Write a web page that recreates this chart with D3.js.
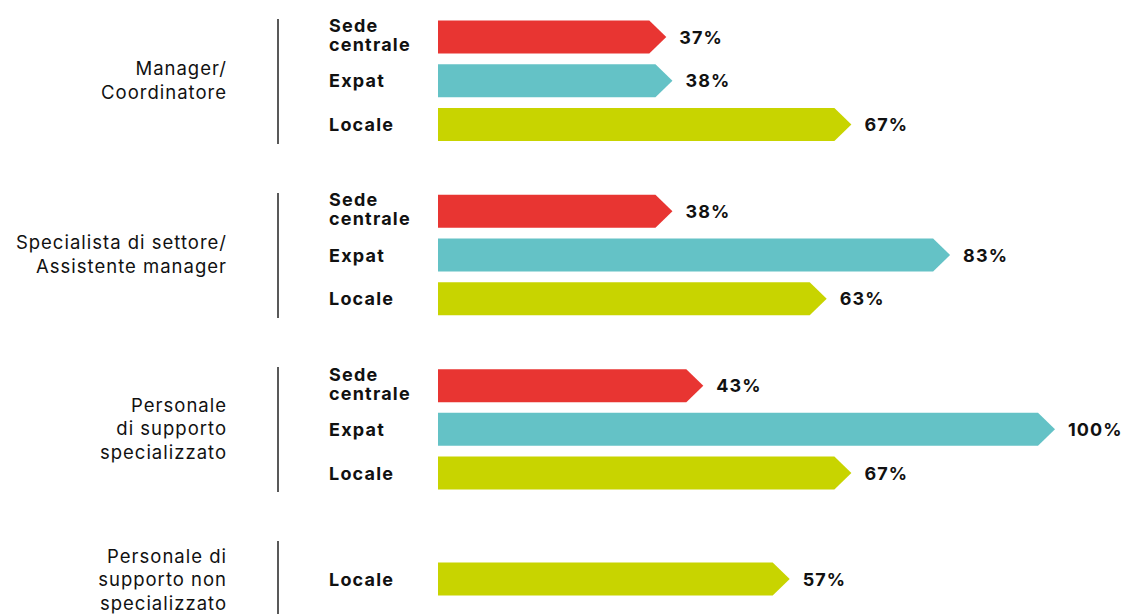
<!DOCTYPE html>
<html>
<head>
<meta charset="utf-8">
<script src="https://cdn.jsdelivr.net/npm/d3@7"></script>
<style>
  body { margin: 0; background: #fff; }
  text { font-family: "Inter", "Open Sans", sans-serif; fill: #111; }
</style>
</head>
<body>
<svg class="svg-bars"></svg>
<script>
// data
const groups = [
  ["Manager/", "Coordinatore"],
  ["Specialista di settore/", "Assistente manager"],
  ["Personale", "di supporto", "specializzato"],
  ["Personale di", "supporto non", "specializzato"]
]
const series = ["Sede centrale", "Expat", "Locale"]
const seriesLabels = [["Sede", "centrale"], ["Expat"], ["Locale"]]
const colors = ["#e83532", "#64c2c6", "#c8d400"]
const sedeValues = [37, 38, 43, null]
const expatValues = [38, 83, 100, null]
const localeValues = [67, 63, 67, 57]

const width = 1129, height = 614
const svg = d3.select(".svg-bars")
  .attr("width", width)
  .attr("height", height)

// flatten into rows
let rows = []
groups.forEach((g, gi) => {
  [sedeValues, expatValues, localeValues].forEach((vals, si) => {
    if (vals[gi] != null) rows.push({ group: gi, series: si, value: vals[gi] })
  })
})

const x_scale = d3.scaleLinear()
  .domain([0, 100])
  .range([438, 1055])

// row centre: group offset + series slot
const groupY = d3.scaleLinear().domain([0, 3]).range([37, 560])
const rowY = d => d.group === 3 ? 579 : groupY(d.group) + d.series * 43.7

const barH = 33, tip = 17

const arrow = d => {
  let x0 = x_scale(0), x1 = x_scale(d.value), y = rowY(d)
  return `M${x0},${y - barH / 2} L${x1 - tip},${y - barH / 2} L${x1},${y} L${x1 - tip},${y + barH / 2} L${x0},${y + barH / 2} Z`
}

svg.append("g").selectAll("path")
  .data(rows)
  .join("path")
  .attr("d", arrow)
  .attr("fill", d => colors[d.series])

// value labels
svg.append("g").selectAll("text")
  .data(rows)
  .join("text")
  .attr("x", d => x_scale(d.value) + 13)
  .attr("y", d => rowY(d) + 6.5)
  .style("font-size", "18px")
  .style("font-weight", "bold")
  .style("letter-spacing", "1.1px")
  .text(d => d.value + "%")

// series labels
svg.append("g").selectAll("text")
  .data(rows.flatMap(d => seriesLabels[d.series].map((t, i, a) => ({
    t, y: rowY(d) + 6.5 + (i - (a.length - 1) / 2) * 19 - (a.length - 1) * 2
  }))))
  .join("text")
  .attr("x", 329)
  .attr("y", d => d.y)
  .style("font-size", "18px")
  .style("font-weight", "bold")
  .style("letter-spacing", "1.2px")
  .text(d => d.t)

// vertical separators
const sepTop = [19, 193, 367, 541]
svg.append("g").selectAll("line")
  .data(sepTop)
  .join("line")
  .attr("x1", 278).attr("x2", 278)
  .attr("y1", d => d)
  .attr("y2", d => d + 125)
  .attr("stroke", "#222")
  .attr("stroke-width", 1.5)

// group labels
const groupCenter = [81, 255, 429, 580]
svg.append("g").selectAll("text")
  .data(groups.flatMap((g, gi) => g.map((t, i) => ({
    t, y: groupCenter[gi] + 6 + (i - (g.length - 1) / 2) * 23.5
  }))))
  .join("text")
  .attr("text-anchor", "end")
  .attr("x", 227)
  .attr("y", d => d.y)
  .style("font-size", "18.5px")
  .style("letter-spacing", "1px")
  .text(d => d.t)
</script>
</body>
</html>
